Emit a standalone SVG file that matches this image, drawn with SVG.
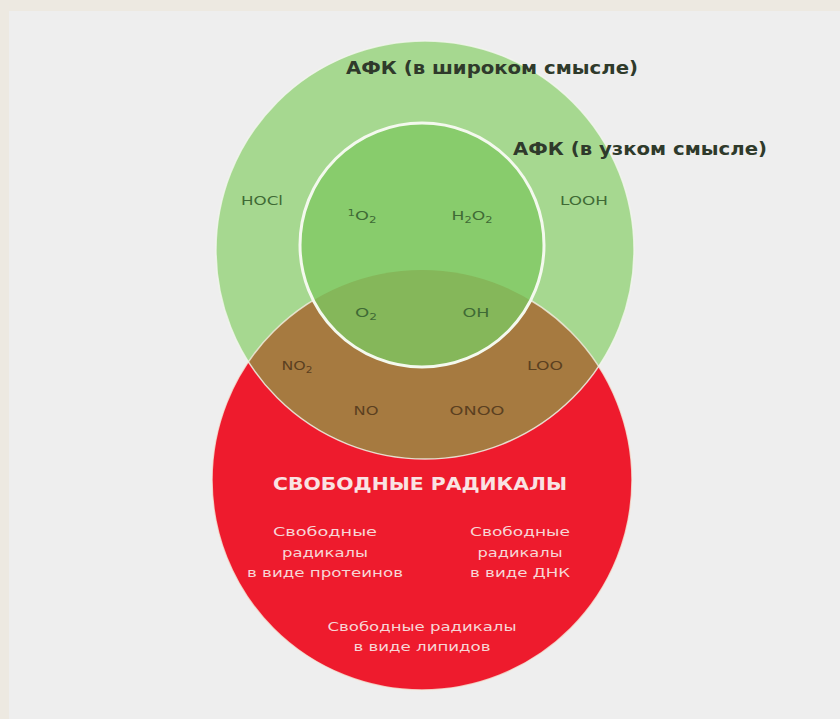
<svg xmlns="http://www.w3.org/2000/svg" width="840" height="719" viewBox="0 0 840 719">
<defs>
<style>
.t{font-family:"DejaVu Sans","Noto Sans",sans-serif;text-anchor:middle}
.h{font-weight:bold;font-size:17px;fill:#2f3a2b}
.g{font-size:12px;fill:#3f6a35}
.b{font-size:12px;fill:#5b4020}
.w{font-size:13px;fill:#f7d6d6}
.wh{font-weight:bold;font-size:17px;fill:#f9e3e3}
.s{font-size:8px}
</style>
<clipPath id="clipRed"><circle cx="422" cy="480" r="210"/></clipPath>
</defs>
<rect x="0" y="0" width="840" height="719" fill="#ede9e1"/>
<rect x="9" y="11" width="831" height="708" fill="#eeeeee"/>
<g id="free-radicals">
<circle cx="422" cy="480" r="210" fill="#ee1b2d"/>
</g>
<g id="ros-broad">
<circle cx="425" cy="250" r="209" fill="#a6d890"/>
<circle cx="425" cy="250" r="209" fill="#a67a40" clip-path="url(#clipRed)"/>
<circle cx="422" cy="480" r="210" fill="none" stroke="#f3ece0" stroke-width="1.5" opacity="0.8"/>
<circle cx="425" cy="250" r="209" fill="none" stroke="#f3f6ee" stroke-width="1.5" opacity="0.8"/>
</g>
<g id="ros-narrow">
<circle cx="422" cy="245" r="122" fill="#88cc6c"/>
<circle cx="422" cy="245" r="122" fill="#85b75a" clip-path="url(#clipRed)"/>
<circle cx="422" cy="245" r="122" fill="none" stroke="#f4f9ee" stroke-width="3"/>
</g>
<g id="labels">
<text class="t h" x="492" y="74" textLength="292" lengthAdjust="spacingAndGlyphs">АФК (в широком смысле)</text>
<text class="t h" x="640" y="155" textLength="254" lengthAdjust="spacingAndGlyphs">АФК (в узком смысле)</text>
<text class="t g" x="262" y="205" textLength="42" lengthAdjust="spacingAndGlyphs">HOCl</text>
<text class="t g" x="584" y="205" textLength="48" lengthAdjust="spacingAndGlyphs">LOOH</text>
<text class="t g" x="362" y="220" textLength="29" lengthAdjust="spacingAndGlyphs"><tspan class="s" dy="-4">1</tspan><tspan dy="4">O</tspan><tspan class="s" dy="3">2</tspan></text>
<text class="t g" x="472" y="220" textLength="41" lengthAdjust="spacingAndGlyphs">H<tspan class="s" dy="3">2</tspan><tspan dy="-3">O</tspan><tspan class="s" dy="3">2</tspan></text>
<text class="t g" x="366" y="317" textLength="22" lengthAdjust="spacingAndGlyphs">O<tspan class="s" dy="3">2</tspan></text>
<text class="t g" x="476" y="317" textLength="27" lengthAdjust="spacingAndGlyphs">OH</text>
<text class="t b" x="297" y="370" textLength="31" lengthAdjust="spacingAndGlyphs">NO<tspan class="s" dy="3">2</tspan></text>
<text class="t b" x="545" y="370" textLength="36" lengthAdjust="spacingAndGlyphs">LOO</text>
<text class="t b" x="366" y="415" textLength="25" lengthAdjust="spacingAndGlyphs">NO</text>
<text class="t b" x="477" y="415" textLength="55" lengthAdjust="spacingAndGlyphs">ONOO</text>
<text class="t wh" x="420" y="490" textLength="294" lengthAdjust="spacingAndGlyphs">СВОБОДНЫЕ РАДИКАЛЫ</text>
<text class="t w" x="325" y="536" textLength="104" lengthAdjust="spacingAndGlyphs">Свободные</text>
<text class="t w" x="325" y="557" textLength="86" lengthAdjust="spacingAndGlyphs">радикалы</text>
<text class="t w" x="325" y="577" textLength="156" lengthAdjust="spacingAndGlyphs">в виде протеинов</text>
<text class="t w" x="520" y="536" textLength="100" lengthAdjust="spacingAndGlyphs">Свободные</text>
<text class="t w" x="520" y="557" textLength="85" lengthAdjust="spacingAndGlyphs">радикалы</text>
<text class="t w" x="520" y="577" textLength="100" lengthAdjust="spacingAndGlyphs">в виде ДНК</text>
<text class="t w" x="422" y="631" textLength="189" lengthAdjust="spacingAndGlyphs">Свободные радикалы</text>
<text class="t w" x="422" y="651" textLength="137" lengthAdjust="spacingAndGlyphs">в виде липидов</text>
</g>
</svg>
